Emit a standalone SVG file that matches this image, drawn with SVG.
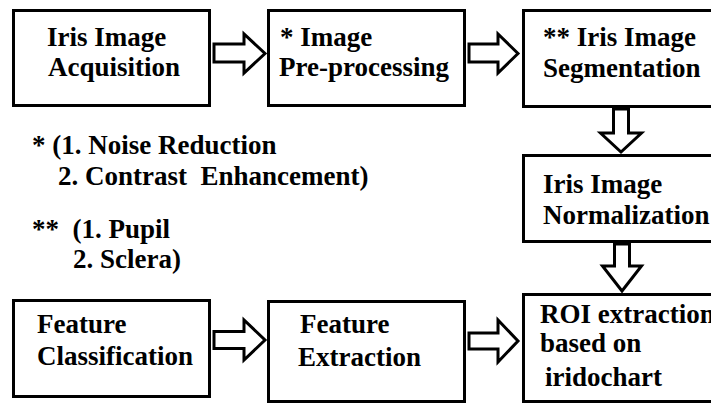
<svg xmlns="http://www.w3.org/2000/svg" width="711" height="405" viewBox="0 0 711 405">
<style>
.box{fill:#fff;stroke:#000;stroke-width:3}
.arr{fill:#fff;stroke:#000;stroke-width:3;stroke-linejoin:miter}
.t{font-family:'Liberation Serif','Times New Roman','DejaVu Serif',serif;font-weight:700;font-size:27px;fill:#000}
</style>
<rect width="711" height="405" fill="#fff"/>
<g id="connectors">
<polygon class="arr" points="214,44 244,44 244,34 265,53.5 244,73 244,62 214,62"/>
<polygon class="arr" points="469,44 498,44 498,34 518,53.5 498,73 498,62 469,62"/>
<polygon class="arr" points="613.5,109 628.5,109 628.5,133 641.5,133 621,152 600.5,133 613.5,133"/>
<polygon class="arr" points="614.5,244 629.5,244 629.5,266 641.5,266 622,291 602.5,266 614.5,266"/>
<polygon class="arr" points="214,331.5 244,331.5 244,320 265,340 244,360 244,348.5 214,348.5"/>
<polygon class="arr" points="469,333 498,333 498,320 518,341 498,362 498,349 469,349"/>
</g>
<g id="acquisition">
<rect class="box" x="13.5" y="10.5" width="196" height="95"/>
<text class="t" x="47" y="46">Iris Image</text>
<text class="t" x="48" y="76">Acquisition</text>
</g>
<g id="preprocessing">
<rect class="box" x="268.5" y="10.5" width="196" height="95"/>
<text class="t" x="280" y="46">* Image</text>
<text class="t" x="279" y="76">Pre-processing</text>
</g>
<g id="segmentation">
<rect class="box" x="523.5" y="10.5" width="200" height="96"/>
<text class="t" x="543" y="46">** Iris Image</text>
<text class="t" x="543" y="77">Segmentation</text>
</g>
<g id="normalization">
<rect class="box" x="523.5" y="155.5" width="200" height="86"/>
<text class="t" x="543" y="193">Iris Image</text>
<text class="t" x="543" y="224">Normalization</text>
</g>
<g id="roi">
<rect class="box" x="523.5" y="294.5" width="200" height="107"/>
<text class="t" x="540" y="323">ROI extraction</text>
<text class="t" x="540" y="352">based on</text>
<text class="t" x="545" y="386">iridochart</text>
</g>
<g id="extraction">
<rect class="box" x="268.5" y="301.5" width="196" height="100"/>
<text class="t" x="300" y="333">Feature</text>
<text class="t" x="298" y="366">Extraction</text>
</g>
<g id="classification">
<rect class="box" x="13.5" y="300.5" width="196" height="96"/>
<text class="t" x="37" y="333">Feature</text>
<text class="t" x="37" y="365">Classification</text>
</g>
<g id="notes">
<text class="t" x="32" y="154">* (1. Noise Reduction</text>
<text class="t" x="58" y="185" xml:space="preserve">2. Contrast  Enhancement)</text>
<text class="t" x="32" y="238" xml:space="preserve">**  (1. Pupil</text>
<text class="t" x="73" y="268">2. Sclera)</text>
</g>
</svg>
